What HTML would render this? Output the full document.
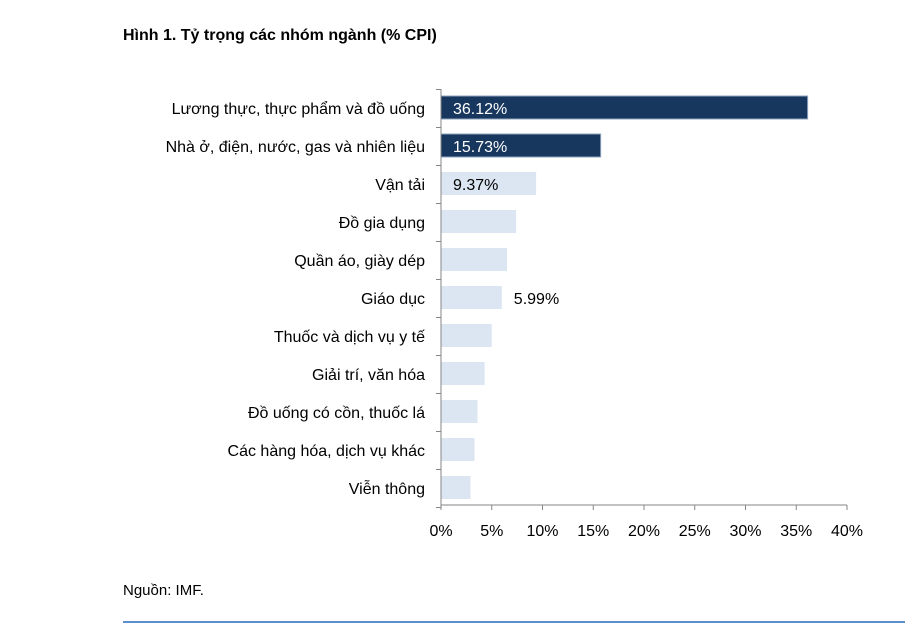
<!DOCTYPE html>
<html><head><meta charset="utf-8">
<style>
body{margin:0;background:#fff;width:915px;height:627px;overflow:hidden;font-family:"Liberation Sans","DejaVu Sans",sans-serif;}
svg text{font-family:"Liberation Sans","DejaVu Sans",sans-serif;}
</style></head>
<body>
<svg width="915" height="627">
<text x="123" y="40" font-size="16" font-weight="bold" fill="#000">Hình 1. Tỷ trọng các nhóm ngành (% CPI)</text>
<g id="plot"></g>
<text x="123" y="595" font-size="15" fill="#000">Nguồn: IMF.</text>
<line x1="123" y1="622" x2="905" y2="622" stroke="#5b8fd0" stroke-width="2"/>
</svg>
<script>
const categories=["Lương thực, thực phẩm và đồ uống","Nhà ở, điện, nước, gas và nhiên liệu","Vận tải","Đồ gia dụng","Quần áo, giày dép","Giáo dục","Thuốc và dịch vụ y tế","Giải trí, văn hóa","Đồ uống có cồn, thuốc lá","Các hàng hóa, dịch vụ khác","Viễn thông"];
const values=[36.12,15.73,9.37,7.4,6.5,5.99,5.0,4.3,3.6,3.3,2.9];
const valueLabels=["36.12%","15.73%","9.37%","","","5.99%","","","","",""];
const xTicks=[0,5,10,15,20,25,30,35,40];
const NS="http://www.w3.org/2000/svg";
const g=document.getElementById('plot');
const x0=441,xs=10.15,topY=89,rowH=38,axisY=505;
const X=v=>x0+v*xs;
const Y=i=>topY+i*rowH;
function mk(t,a){const e=document.createElementNS(NS,t);for(const k in a)e.setAttribute(k,a[k]);g.appendChild(e);return e;}
categories.forEach((c,i)=>{
 const dark=i<2;
 const r=mk('rect',{x:X(0),y:Y(i)+7,width:X(values[i])-X(0),height:23,fill:dark?'#17375e':'#dce6f2',stroke:dark?'#8ea3bd':'none','stroke-width':dark?1:0});
 
 
 const t=mk('text',{x:425,y:Y(i)+25,'font-size':16,'text-anchor':'end',fill:'#000'});
 t.textContent=c;
 
 
 if(valueLabels[i]){
  const inside=values[i]>8;
  const vl=mk('text',{x:inside?X(0)+12:X(values[i])+12,y:Y(i)+25,'font-size':16,fill:dark?'#fff':'#000'});
  vl.textContent=valueLabels[i];
  
  
 }
});
for(let i=0;i<=categories.length;i++){
 const tk=mk('line',{x1:X(0)-5,x2:X(0),y1:Y(i)+0.5,y2:Y(i)+0.5,stroke:'#868686'});
 
 
}
const ya=mk('line',{x1:X(0),x2:X(0),y1:Y(0),y2:axisY,stroke:'#868686','stroke-width':1});


const xa=mk('line',{x1:X(0),x2:X(40),y1:axisY,y2:axisY,stroke:'#868686','stroke-width':1});


xTicks.forEach(v=>{
 const l=mk('line',{x1:X(v),x2:X(v),y1:axisY,y2:axisY+5,stroke:'#868686'});
 
 
 const t=mk('text',{x:X(v),y:536,'font-size':16,'text-anchor':'middle',fill:'#000'});
 t.textContent=v+'%';
 
 
});
</script>
</body></html>
